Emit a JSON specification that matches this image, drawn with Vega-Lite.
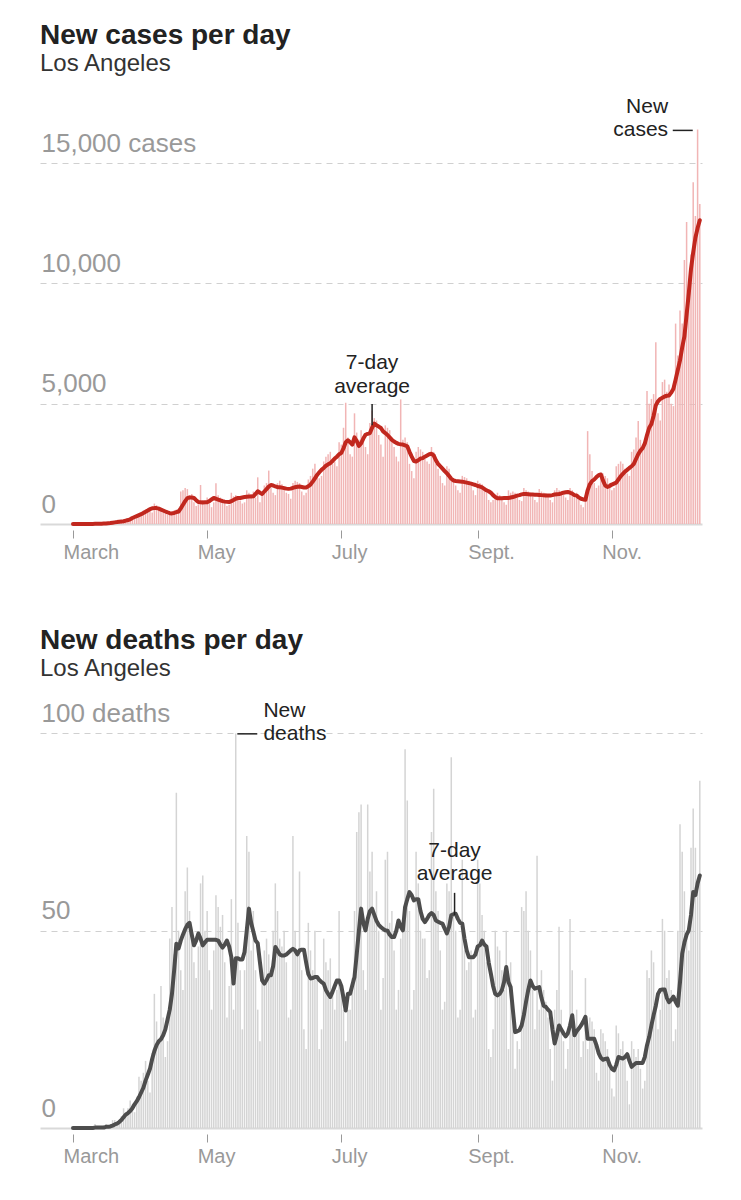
{
  "$schema": "https://vega.github.io/schema/vega-lite/v6.json",
  "background": "white",
  "padding": {"left": 40, "top": 21, "right": 20, "bottom": 10},
  "spacing": 65,
  "config": {
    "view": {"stroke": null},
    "font": "Liberation Sans",
    "title": {
      "font": "Liberation Sans",
      "fontSize": 28,
      "fontWeight": "bold",
      "color": "#222222",
      "anchor": "start",
      "subtitleFont": "Liberation Sans",
      "subtitleFontSize": 24,
      "subtitleColor": "#333333",
      "subtitlePadding": 2
    },
    "axisX": {
      "domain": false,
      "grid": false,
      "offset": 6,
      "tickSize": 8,
      "tickColor": "#999999",
      "tickWidth": 1,
      "labelAlign": "left",
      "labelBaseline": "top",
      "labelOffset": -10,
      "labelPadding": 4,
      "labelFontSize": 20,
      "labelColor": "#999999",
      "labelFlush": false,
      "labelOverlap": false,
      "title": null
    },
    "axisY": {
      "domain": false,
      "ticks": false,
      "labelAlign": "left",
      "labelBaseline": "alphabetic",
      "labelPadding": -1,
      "labelOffset": -12,
      "labelFontSize": 26,
      "labelColor": "#999999",
      "grid": true,
      "gridColor": {"condition": {"test": "datum.value === 0", "value": "#d9d9d9"}, "value": "#d0d0d0"},
      "gridDash": {"condition": {"test": "datum.value === 0", "value": []}, "value": [6, 5]},
      "gridWidth": {"condition": {"test": "datum.value === 0", "value": 2}, "value": 1},
      "title": null
    }
  },
  "datasets": {
    "daily": [
      {"date":"2020-03-01","cases":0,"avg_cases":0,"deaths":0,"avg_deaths":0},
      {"date":"2020-03-02","cases":1,"avg_cases":1,"deaths":0,"avg_deaths":0},
      {"date":"2020-03-03","cases":2,"avg_cases":1,"deaths":0,"avg_deaths":0},
      {"date":"2020-03-04","cases":1,"avg_cases":1,"deaths":0,"avg_deaths":0},
      {"date":"2020-03-05","cases":3,"avg_cases":2,"deaths":0,"avg_deaths":0},
      {"date":"2020-03-06","cases":4,"avg_cases":2,"deaths":0,"avg_deaths":0},
      {"date":"2020-03-07","cases":2,"avg_cases":3,"deaths":0,"avg_deaths":0},
      {"date":"2020-03-08","cases":3,"avg_cases":3,"deaths":0,"avg_deaths":0},
      {"date":"2020-03-09","cases":2,"avg_cases":4,"deaths":0,"avg_deaths":0},
      {"date":"2020-03-10","cases":6,"avg_cases":5,"deaths":0,"avg_deaths":0},
      {"date":"2020-03-11","cases":8,"avg_cases":6,"deaths":1,"avg_deaths":0.1},
      {"date":"2020-03-12","cases":12,"avg_cases":8,"deaths":0,"avg_deaths":0.1},
      {"date":"2020-03-13","cases":15,"avg_cases":11,"deaths":0,"avg_deaths":0.1},
      {"date":"2020-03-14","cases":20,"avg_cases":14,"deaths":0,"avg_deaths":0.1},
      {"date":"2020-03-15","cases":22,"avg_cases":18,"deaths":0,"avg_deaths":0.1},
      {"date":"2020-03-16","cases":30,"avg_cases":24,"deaths":1,"avg_deaths":0.3},
      {"date":"2020-03-17","cases":45,"avg_cases":32,"deaths":0,"avg_deaths":0.3},
      {"date":"2020-03-18","cases":60,"avg_cases":42,"deaths":1,"avg_deaths":0.4},
      {"date":"2020-03-19","cases":80,"avg_cases":55,"deaths":2,"avg_deaths":0.6},
      {"date":"2020-03-20","cases":95,"avg_cases":68,"deaths":2,"avg_deaths":0.9},
      {"date":"2020-03-21","cases":110,"avg_cases":80,"deaths":1,"avg_deaths":1.1},
      {"date":"2020-03-22","cases":100,"avg_cases":95,"deaths":2,"avg_deaths":1.5},
      {"date":"2020-03-23","cases":90,"avg_cases":105,"deaths":3,"avg_deaths":2.0},
      {"date":"2020-03-24","cases":140,"avg_cases":115,"deaths":5,"avg_deaths":2.7},
      {"date":"2020-03-25","cases":190,"avg_cases":140,"deaths":4,"avg_deaths":3.4},
      {"date":"2020-03-26","cases":210,"avg_cases":165,"deaths":5,"avg_deaths":3.8},
      {"date":"2020-03-27","cases":250,"avg_cases":195,"deaths":7,"avg_deaths":4.3},
      {"date":"2020-03-28","cases":300,"avg_cases":250,"deaths":6,"avg_deaths":5.0},
      {"date":"2020-03-29","cases":280,"avg_cases":290,"deaths":4,"avg_deaths":6.0},
      {"date":"2020-03-30","cases":280,"avg_cases":330,"deaths":8,"avg_deaths":6.8},
      {"date":"2020-03-31","cases":420,"avg_cases":370,"deaths":13,"avg_deaths":7.8},
      {"date":"2020-04-01","cases":480,"avg_cases":410,"deaths":12,"avg_deaths":9.0},
      {"date":"2020-04-02","cases":560,"avg_cases":460,"deaths":14,"avg_deaths":10.2},
      {"date":"2020-04-03","cases":600,"avg_cases":510,"deaths":17,"avg_deaths":12.0},
      {"date":"2020-04-04","cases":540,"avg_cases":560,"deaths":12,"avg_deaths":13.5},
      {"date":"2020-04-05","cases":560,"avg_cases":620,"deaths":9,"avg_deaths":15.0},
      {"date":"2020-04-06","cases":480,"avg_cases":650,"deaths":19,"avg_deaths":17.5},
      {"date":"2020-04-07","cases":850,"avg_cases":660,"deaths":34,"avg_deaths":19.5},
      {"date":"2020-04-08","cases":780,"avg_cases":660,"deaths":27,"avg_deaths":21},
      {"date":"2020-04-09","cases":720,"avg_cases":640,"deaths":22,"avg_deaths":22},
      {"date":"2020-04-10","cases":620,"avg_cases":600,"deaths":36,"avg_deaths":22.5},
      {"date":"2020-04-11","cases":500,"avg_cases":560,"deaths":28,"avg_deaths":23.5},
      {"date":"2020-04-12","cases":440,"avg_cases":520,"deaths":18,"avg_deaths":25},
      {"date":"2020-04-13","cases":380,"avg_cases":480,"deaths":22,"avg_deaths":27.5},
      {"date":"2020-04-14","cases":460,"avg_cases":450,"deaths":48,"avg_deaths":30},
      {"date":"2020-04-15","cases":520,"avg_cases":440,"deaths":56,"avg_deaths":34},
      {"date":"2020-04-16","cases":560,"avg_cases":460,"deaths":44,"avg_deaths":40},
      {"date":"2020-04-17","cases":600,"avg_cases":490,"deaths":85,"avg_deaths":46.7},
      {"date":"2020-04-18","cases":480,"avg_cases":520,"deaths":50,"avg_deaths":45.5},
      {"date":"2020-04-19","cases":1350,"avg_cases":650,"deaths":40,"avg_deaths":47.5},
      {"date":"2020-04-20","cases":1400,"avg_cases":800,"deaths":35,"avg_deaths":49},
      {"date":"2020-04-21","cases":1500,"avg_cases":950,"deaths":60,"avg_deaths":50.4},
      {"date":"2020-04-22","cases":1450,"avg_cases":1075,"deaths":66,"avg_deaths":51.5},
      {"date":"2020-04-23","cases":1200,"avg_cases":1100,"deaths":55,"avg_deaths":52},
      {"date":"2020-04-24","cases":1250,"avg_cases":1100,"deaths":48,"avg_deaths":49},
      {"date":"2020-04-25","cases":900,"avg_cases":1080,"deaths":42,"avg_deaths":46.3},
      {"date":"2020-04-26","cases":750,"avg_cases":990,"deaths":38,"avg_deaths":47.5},
      {"date":"2020-04-27","cases":820,"avg_cases":910,"deaths":46,"avg_deaths":49.3},
      {"date":"2020-04-28","cases":1620,"avg_cases":900,"deaths":62,"avg_deaths":48},
      {"date":"2020-04-29","cases":1000,"avg_cases":890,"deaths":64,"avg_deaths":46.3},
      {"date":"2020-04-30","cases":950,"avg_cases":900,"deaths":50,"avg_deaths":47},
      {"date":"2020-05-01","cases":1100,"avg_cases":905,"deaths":55,"avg_deaths":47.7},
      {"date":"2020-05-02","cases":850,"avg_cases":950,"deaths":40,"avg_deaths":47.7},
      {"date":"2020-05-03","cases":700,"avg_cases":1020,"deaths":30,"avg_deaths":47.7},
      {"date":"2020-05-04","cases":900,"avg_cases":1080,"deaths":45,"avg_deaths":47.7},
      {"date":"2020-05-05","cases":1690,"avg_cases":1050,"deaths":59,"avg_deaths":47.7},
      {"date":"2020-05-06","cases":1200,"avg_cases":1010,"deaths":56,"avg_deaths":47.5},
      {"date":"2020-05-07","cases":1100,"avg_cases":980,"deaths":51,"avg_deaths":46.5},
      {"date":"2020-05-08","cases":1050,"avg_cases":950,"deaths":54,"avg_deaths":45.7},
      {"date":"2020-05-09","cases":880,"avg_cases":930,"deaths":42,"avg_deaths":46.5},
      {"date":"2020-05-10","cases":750,"avg_cases":920,"deaths":28,"avg_deaths":47.5},
      {"date":"2020-05-11","cases":800,"avg_cases":910,"deaths":36,"avg_deaths":46},
      {"date":"2020-05-12","cases":1300,"avg_cases":950,"deaths":58,"avg_deaths":43.3},
      {"date":"2020-05-13","cases":1150,"avg_cases":1000,"deaths":30,"avg_deaths":36.6},
      {"date":"2020-05-14","cases":1200,"avg_cases":1050,"deaths":100,"avg_deaths":43},
      {"date":"2020-05-15","cases":1150,"avg_cases":1080,"deaths":52,"avg_deaths":43},
      {"date":"2020-05-16","cases":980,"avg_cases":1080,"deaths":40,"avg_deaths":42.7},
      {"date":"2020-05-17","cases":850,"avg_cases":1100,"deaths":25,"avg_deaths":42.7},
      {"date":"2020-05-18","cases":900,"avg_cases":1120,"deaths":40,"avg_deaths":44.6},
      {"date":"2020-05-19","cases":1400,"avg_cases":1130,"deaths":74,"avg_deaths":50},
      {"date":"2020-05-20","cases":1300,"avg_cases":1140,"deaths":70,"avg_deaths":55.6},
      {"date":"2020-05-21","cases":1250,"avg_cases":1145,"deaths":45,"avg_deaths":52},
      {"date":"2020-05-22","cases":1350,"avg_cases":1150,"deaths":55,"avg_deaths":49.8},
      {"date":"2020-05-23","cases":1100,"avg_cases":1250,"deaths":40,"avg_deaths":47.5},
      {"date":"2020-05-24","cases":1940,"avg_cases":1360,"deaths":30,"avg_deaths":46.8},
      {"date":"2020-05-25","cases":900,"avg_cases":1300,"deaths":22,"avg_deaths":42},
      {"date":"2020-05-26","cases":1300,"avg_cases":1250,"deaths":38,"avg_deaths":37.4},
      {"date":"2020-05-27","cases":1600,"avg_cases":1350,"deaths":45,"avg_deaths":36.6},
      {"date":"2020-05-28","cases":1700,"avg_cases":1450,"deaths":48,"avg_deaths":37.5},
      {"date":"2020-05-29","cases":2220,"avg_cases":1550,"deaths":44,"avg_deaths":38.7},
      {"date":"2020-05-30","cases":1500,"avg_cases":1620,"deaths":40,"avg_deaths":38.7},
      {"date":"2020-05-31","cases":1300,"avg_cases":1600,"deaths":50,"avg_deaths":41},
      {"date":"2020-06-01","cases":1200,"avg_cases":1560,"deaths":62,"avg_deaths":45.9},
      {"date":"2020-06-02","cases":1700,"avg_cases":1530,"deaths":55,"avg_deaths":45},
      {"date":"2020-06-03","cases":1800,"avg_cases":1530,"deaths":48,"avg_deaths":44},
      {"date":"2020-06-04","cases":1650,"avg_cases":1510,"deaths":46,"avg_deaths":43.7},
      {"date":"2020-06-05","cases":1550,"avg_cases":1490,"deaths":50,"avg_deaths":43.7},
      {"date":"2020-06-06","cases":1300,"avg_cases":1470,"deaths":42,"avg_deaths":44},
      {"date":"2020-06-07","cases":1250,"avg_cases":1460,"deaths":28,"avg_deaths":44.5},
      {"date":"2020-06-08","cases":1050,"avg_cases":1470,"deaths":30,"avg_deaths":45},
      {"date":"2020-06-09","cases":1700,"avg_cases":1500,"deaths":74,"avg_deaths":45.4},
      {"date":"2020-06-10","cases":1800,"avg_cases":1530,"deaths":50,"avg_deaths":45},
      {"date":"2020-06-11","cases":1750,"avg_cases":1550,"deaths":45,"avg_deaths":44},
      {"date":"2020-06-12","cases":1700,"avg_cases":1560,"deaths":65,"avg_deaths":45},
      {"date":"2020-06-13","cases":1350,"avg_cases":1540,"deaths":40,"avg_deaths":45.2},
      {"date":"2020-06-14","cases":1200,"avg_cases":1520,"deaths":25,"avg_deaths":45.2},
      {"date":"2020-06-15","cases":1300,"avg_cases":1520,"deaths":20,"avg_deaths":42},
      {"date":"2020-06-16","cases":1850,"avg_cases":1570,"deaths":52,"avg_deaths":39},
      {"date":"2020-06-17","cases":2000,"avg_cases":1640,"deaths":45,"avg_deaths":37.9},
      {"date":"2020-06-18","cases":2300,"avg_cases":1760,"deaths":40,"avg_deaths":38},
      {"date":"2020-06-19","cases":2500,"avg_cases":1900,"deaths":50,"avg_deaths":38.3},
      {"date":"2020-06-20","cases":2100,"avg_cases":2040,"deaths":38,"avg_deaths":38.3},
      {"date":"2020-06-21","cases":1900,"avg_cases":2150,"deaths":20,"avg_deaths":37.5},
      {"date":"2020-06-22","cases":2000,"avg_cases":2250,"deaths":25,"avg_deaths":37},
      {"date":"2020-06-23","cases":2600,"avg_cases":2330,"deaths":48,"avg_deaths":36.6},
      {"date":"2020-06-24","cases":2800,"avg_cases":2420,"deaths":42,"avg_deaths":35},
      {"date":"2020-06-25","cases":2900,"avg_cases":2480,"deaths":40,"avg_deaths":34},
      {"date":"2020-06-26","cases":3000,"avg_cases":2530,"deaths":43,"avg_deaths":33.2},
      {"date":"2020-06-27","cases":2500,"avg_cases":2620,"deaths":35,"avg_deaths":34.5},
      {"date":"2020-06-28","cases":2600,"avg_cases":2720,"deaths":30,"avg_deaths":36},
      {"date":"2020-06-29","cases":2400,"avg_cases":2800,"deaths":35,"avg_deaths":37.4},
      {"date":"2020-06-30","cases":3400,"avg_cases":2900,"deaths":55,"avg_deaths":37.4},
      {"date":"2020-07-01","cases":3300,"avg_cases":2950,"deaths":35,"avg_deaths":36},
      {"date":"2020-07-02","cases":4000,"avg_cases":3150,"deaths":30,"avg_deaths":33},
      {"date":"2020-07-03","cases":5040,"avg_cases":3400,"deaths":22,"avg_deaths":29.8},
      {"date":"2020-07-04","cases":3600,"avg_cases":3480,"deaths":30,"avg_deaths":34},
      {"date":"2020-07-05","cases":2900,"avg_cases":3400,"deaths":30,"avg_deaths":34},
      {"date":"2020-07-06","cases":2800,"avg_cases":3300,"deaths":38,"avg_deaths":36.2},
      {"date":"2020-07-07","cases":4600,"avg_cases":3600,"deaths":55,"avg_deaths":38.3},
      {"date":"2020-07-08","cases":3800,"avg_cases":3450,"deaths":75,"avg_deaths":44},
      {"date":"2020-07-09","cases":3500,"avg_cases":3250,"deaths":80,"avg_deaths":50},
      {"date":"2020-07-10","cases":3900,"avg_cases":3350,"deaths":82,"avg_deaths":55.6},
      {"date":"2020-07-11","cases":3400,"avg_cases":3550,"deaths":40,"avg_deaths":52},
      {"date":"2020-07-12","cases":3200,"avg_cases":3710,"deaths":35,"avg_deaths":50.1},
      {"date":"2020-07-13","cases":2900,"avg_cases":3750,"deaths":82,"avg_deaths":53},
      {"date":"2020-07-14","cases":4200,"avg_cases":3780,"deaths":65,"avg_deaths":55},
      {"date":"2020-07-15","cases":4720,"avg_cases":4000,"deaths":70,"avg_deaths":55.6},
      {"date":"2020-07-16","cases":4400,"avg_cases":4170,"deaths":55,"avg_deaths":54},
      {"date":"2020-07-17","cases":4300,"avg_cases":4100,"deaths":60,"avg_deaths":52.5},
      {"date":"2020-07-18","cases":3700,"avg_cases":4050,"deaths":50,"avg_deaths":51.5},
      {"date":"2020-07-19","cases":3300,"avg_cases":3990,"deaths":30,"avg_deaths":50.9},
      {"date":"2020-07-20","cases":2800,"avg_cases":3850,"deaths":38,"avg_deaths":50.5},
      {"date":"2020-07-21","cases":4100,"avg_cases":3780,"deaths":68,"avg_deaths":50.1},
      {"date":"2020-07-22","cases":4000,"avg_cases":3700,"deaths":70,"avg_deaths":50},
      {"date":"2020-07-23","cases":3900,"avg_cases":3600,"deaths":52,"avg_deaths":49},
      {"date":"2020-07-24","cases":3600,"avg_cases":3500,"deaths":55,"avg_deaths":48.4},
      {"date":"2020-07-25","cases":3200,"avg_cases":3430,"deaths":45,"avg_deaths":48.4},
      {"date":"2020-07-26","cases":2800,"avg_cases":3370,"deaths":30,"avg_deaths":50},
      {"date":"2020-07-27","cases":2600,"avg_cases":3330,"deaths":35,"avg_deaths":52.6},
      {"date":"2020-07-28","cases":5180,"avg_cases":3310,"deaths":48,"avg_deaths":51},
      {"date":"2020-07-29","cases":3500,"avg_cases":3300,"deaths":50,"avg_deaths":50.1},
      {"date":"2020-07-30","cases":3600,"avg_cases":3270,"deaths":96,"avg_deaths":56},
      {"date":"2020-07-31","cases":3400,"avg_cases":3230,"deaths":83,"avg_deaths":58},
      {"date":"2020-08-01","cases":2500,"avg_cases":3000,"deaths":55,"avg_deaths":59.8},
      {"date":"2020-08-02","cases":2200,"avg_cases":2800,"deaths":30,"avg_deaths":59},
      {"date":"2020-08-03","cases":1900,"avg_cases":2620,"deaths":35,"avg_deaths":57.7},
      {"date":"2020-08-04","cases":3000,"avg_cases":2600,"deaths":70,"avg_deaths":58},
      {"date":"2020-08-05","cases":3200,"avg_cases":2650,"deaths":62,"avg_deaths":58},
      {"date":"2020-08-06","cases":3100,"avg_cases":2720,"deaths":50,"avg_deaths":55},
      {"date":"2020-08-07","cases":3000,"avg_cases":2740,"deaths":48,"avg_deaths":53},
      {"date":"2020-08-08","cases":2700,"avg_cases":2800,"deaths":48,"avg_deaths":52.2},
      {"date":"2020-08-09","cases":2600,"avg_cases":2850,"deaths":38,"avg_deaths":53},
      {"date":"2020-08-10","cases":2500,"avg_cases":2900,"deaths":40,"avg_deaths":54},
      {"date":"2020-08-11","cases":3200,"avg_cases":2920,"deaths":75,"avg_deaths":54.5},
      {"date":"2020-08-12","cases":3000,"avg_cases":2850,"deaths":86,"avg_deaths":54},
      {"date":"2020-08-13","cases":2500,"avg_cases":2650,"deaths":60,"avg_deaths":52.6},
      {"date":"2020-08-14","cases":2300,"avg_cases":2500,"deaths":55,"avg_deaths":52.3},
      {"date":"2020-08-15","cases":2000,"avg_cases":2400,"deaths":45,"avg_deaths":52},
      {"date":"2020-08-16","cases":1700,"avg_cases":2300,"deaths":30,"avg_deaths":51.8},
      {"date":"2020-08-17","cases":1600,"avg_cases":2200,"deaths":32,"avg_deaths":50.5},
      {"date":"2020-08-18","cases":2400,"avg_cases":2110,"deaths":62,"avg_deaths":49.3},
      {"date":"2020-08-19","cases":2300,"avg_cases":2000,"deaths":60,"avg_deaths":51},
      {"date":"2020-08-20","cases":2000,"avg_cases":1880,"deaths":94,"avg_deaths":53.9},
      {"date":"2020-08-21","cases":1900,"avg_cases":1810,"deaths":55,"avg_deaths":54.2},
      {"date":"2020-08-22","cases":1600,"avg_cases":1790,"deaths":50,"avg_deaths":54.3},
      {"date":"2020-08-23","cases":1400,"avg_cases":1780,"deaths":28,"avg_deaths":53},
      {"date":"2020-08-24","cases":1300,"avg_cases":1770,"deaths":30,"avg_deaths":52},
      {"date":"2020-08-25","cases":2000,"avg_cases":1760,"deaths":68,"avg_deaths":51.8},
      {"date":"2020-08-26","cases":1950,"avg_cases":1740,"deaths":45,"avg_deaths":48},
      {"date":"2020-08-27","cases":1900,"avg_cases":1720,"deaths":40,"avg_deaths":45},
      {"date":"2020-08-28","cases":1800,"avg_cases":1700,"deaths":42,"avg_deaths":43.3},
      {"date":"2020-08-29","cases":1600,"avg_cases":1680,"deaths":45,"avg_deaths":43.3},
      {"date":"2020-08-30","cases":1400,"avg_cases":1650,"deaths":28,"avg_deaths":43.3},
      {"date":"2020-08-31","cases":1200,"avg_cases":1620,"deaths":30,"avg_deaths":44},
      {"date":"2020-09-01","cases":1800,"avg_cases":1580,"deaths":68,"avg_deaths":46},
      {"date":"2020-09-02","cases":1700,"avg_cases":1560,"deaths":62,"avg_deaths":46.3},
      {"date":"2020-09-03","cases":1650,"avg_cases":1520,"deaths":54,"avg_deaths":47.5},
      {"date":"2020-09-04","cases":1500,"avg_cases":1460,"deaths":50,"avg_deaths":46.5},
      {"date":"2020-09-05","cases":1300,"avg_cases":1400,"deaths":42,"avg_deaths":46},
      {"date":"2020-09-06","cases":1000,"avg_cases":1360,"deaths":20,"avg_deaths":42},
      {"date":"2020-09-07","cases":900,"avg_cases":1300,"deaths":18,"avg_deaths":39.1},
      {"date":"2020-09-08","cases":1000,"avg_cases":1200,"deaths":25,"avg_deaths":36},
      {"date":"2020-09-09","cases":1100,"avg_cases":1120,"deaths":50,"avg_deaths":34},
      {"date":"2020-09-10","cases":1300,"avg_cases":1070,"deaths":46,"avg_deaths":33.6},
      {"date":"2020-09-11","cases":1200,"avg_cases":1070,"deaths":45,"avg_deaths":34},
      {"date":"2020-09-12","cases":1050,"avg_cases":1075,"deaths":40,"avg_deaths":34.9},
      {"date":"2020-09-13","cases":900,"avg_cases":1080,"deaths":35,"avg_deaths":37},
      {"date":"2020-09-14","cases":800,"avg_cases":1080,"deaths":50,"avg_deaths":40.8},
      {"date":"2020-09-15","cases":1400,"avg_cases":1080,"deaths":20,"avg_deaths":37},
      {"date":"2020-09-16","cases":1300,"avg_cases":1100,"deaths":42,"avg_deaths":35.7},
      {"date":"2020-09-17","cases":1350,"avg_cases":1120,"deaths":30,"avg_deaths":30},
      {"date":"2020-09-18","cases":1300,"avg_cases":1150,"deaths":15,"avg_deaths":24.3},
      {"date":"2020-09-19","cases":1100,"avg_cases":1180,"deaths":22,"avg_deaths":24.5},
      {"date":"2020-09-20","cases":1000,"avg_cases":1200,"deaths":20,"avg_deaths":24.8},
      {"date":"2020-09-21","cases":950,"avg_cases":1230,"deaths":56,"avg_deaths":26},
      {"date":"2020-09-22","cases":1500,"avg_cases":1250,"deaths":55,"avg_deaths":28.6},
      {"date":"2020-09-23","cases":1400,"avg_cases":1250,"deaths":60,"avg_deaths":32},
      {"date":"2020-09-24","cases":1350,"avg_cases":1240,"deaths":50,"avg_deaths":35},
      {"date":"2020-09-25","cases":1300,"avg_cases":1230,"deaths":45,"avg_deaths":37.4},
      {"date":"2020-09-26","cases":1150,"avg_cases":1225,"deaths":35,"avg_deaths":36},
      {"date":"2020-09-27","cases":1000,"avg_cases":1220,"deaths":25,"avg_deaths":35.3},
      {"date":"2020-09-28","cases":900,"avg_cases":1220,"deaths":69,"avg_deaths":35.5},
      {"date":"2020-09-29","cases":1450,"avg_cases":1210,"deaths":30,"avg_deaths":35.7},
      {"date":"2020-09-30","cases":1350,"avg_cases":1200,"deaths":40,"avg_deaths":33},
      {"date":"2020-10-01","cases":1300,"avg_cases":1190,"deaths":35,"avg_deaths":31},
      {"date":"2020-10-02","cases":1280,"avg_cases":1185,"deaths":32,"avg_deaths":30.7},
      {"date":"2020-10-03","cases":1150,"avg_cases":1180,"deaths":28,"avg_deaths":30},
      {"date":"2020-10-04","cases":1000,"avg_cases":1180,"deaths":20,"avg_deaths":29.4},
      {"date":"2020-10-05","cases":900,"avg_cases":1200,"deaths":12,"avg_deaths":25},
      {"date":"2020-10-06","cases":1400,"avg_cases":1230,"deaths":30,"avg_deaths":21.4},
      {"date":"2020-10-07","cases":1500,"avg_cases":1240,"deaths":35,"avg_deaths":23.5},
      {"date":"2020-10-08","cases":1400,"avg_cases":1250,"deaths":51,"avg_deaths":26},
      {"date":"2020-10-09","cases":1350,"avg_cases":1270,"deaths":30,"avg_deaths":25},
      {"date":"2020-10-10","cases":1200,"avg_cases":1300,"deaths":22,"avg_deaths":24},
      {"date":"2020-10-11","cases":1100,"avg_cases":1320,"deaths":15,"avg_deaths":23.2},
      {"date":"2020-10-12","cases":1000,"avg_cases":1330,"deaths":20,"avg_deaths":24},
      {"date":"2020-10-13","cases":1500,"avg_cases":1300,"deaths":53,"avg_deaths":26},
      {"date":"2020-10-14","cases":1400,"avg_cases":1260,"deaths":40,"avg_deaths":28.6},
      {"date":"2020-10-15","cases":1250,"avg_cases":1200,"deaths":25,"avg_deaths":23.5},
      {"date":"2020-10-16","cases":1300,"avg_cases":1180,"deaths":30,"avg_deaths":24.5},
      {"date":"2020-10-17","cases":1000,"avg_cases":1100,"deaths":25,"avg_deaths":25.2},
      {"date":"2020-10-18","cases":800,"avg_cases":1050,"deaths":18,"avg_deaths":26},
      {"date":"2020-10-19","cases":700,"avg_cases":1020,"deaths":22,"avg_deaths":27},
      {"date":"2020-10-20","cases":1200,"avg_cases":1010,"deaths":38,"avg_deaths":28.2},
      {"date":"2020-10-21","cases":3860,"avg_cases":1400,"deaths":20,"avg_deaths":22.6},
      {"date":"2020-10-22","cases":2900,"avg_cases":1650,"deaths":28,"avg_deaths":22.6},
      {"date":"2020-10-23","cases":2200,"avg_cases":1780,"deaths":27,"avg_deaths":22.6},
      {"date":"2020-10-24","cases":1700,"avg_cases":1850,"deaths":25,"avg_deaths":22.6},
      {"date":"2020-10-25","cases":1500,"avg_cases":1950,"deaths":14,"avg_deaths":21},
      {"date":"2020-10-26","cases":1600,"avg_cases":2030,"deaths":12,"avg_deaths":19},
      {"date":"2020-10-27","cases":2000,"avg_cases":2060,"deaths":25,"avg_deaths":17.8},
      {"date":"2020-10-28","cases":2100,"avg_cases":1800,"deaths":24,"avg_deaths":17.3},
      {"date":"2020-10-29","cases":2000,"avg_cases":1600,"deaths":22,"avg_deaths":17.5},
      {"date":"2020-10-30","cases":1900,"avg_cases":1540,"deaths":20,"avg_deaths":17.6},
      {"date":"2020-10-31","cases":1700,"avg_cases":1580,"deaths":15,"avg_deaths":16},
      {"date":"2020-11-01","cases":1400,"avg_cases":1640,"deaths":10,"avg_deaths":15},
      {"date":"2020-11-02","cases":1500,"avg_cases":1680,"deaths":8,"avg_deaths":14.6},
      {"date":"2020-11-03","cases":2400,"avg_cases":1720,"deaths":26,"avg_deaths":16},
      {"date":"2020-11-04","cases":2500,"avg_cases":1850,"deaths":24,"avg_deaths":18},
      {"date":"2020-11-05","cases":2600,"avg_cases":1980,"deaths":20,"avg_deaths":17.8},
      {"date":"2020-11-06","cases":2500,"avg_cases":2080,"deaths":22,"avg_deaths":17.6},
      {"date":"2020-11-07","cases":2300,"avg_cases":2180,"deaths":18,"avg_deaths":18},
      {"date":"2020-11-08","cases":2100,"avg_cases":2250,"deaths":12,"avg_deaths":18.7},
      {"date":"2020-11-09","cases":2000,"avg_cases":2330,"deaths":6,"avg_deaths":17},
      {"date":"2020-11-10","cases":3000,"avg_cases":2400,"deaths":22,"avg_deaths":15.5},
      {"date":"2020-11-11","cases":3100,"avg_cases":2500,"deaths":20,"avg_deaths":16},
      {"date":"2020-11-12","cases":3600,"avg_cases":2700,"deaths":18,"avg_deaths":16.5},
      {"date":"2020-11-13","cases":4280,"avg_cases":2900,"deaths":20,"avg_deaths":16.5},
      {"date":"2020-11-14","cases":3500,"avg_cases":3050,"deaths":15,"avg_deaths":16.5},
      {"date":"2020-11-15","cases":3200,"avg_cases":3150,"deaths":10,"avg_deaths":16.5},
      {"date":"2020-11-16","cases":3300,"avg_cases":3350,"deaths":12,"avg_deaths":18},
      {"date":"2020-11-17","cases":5530,"avg_cases":3700,"deaths":40,"avg_deaths":21},
      {"date":"2020-11-18","cases":5000,"avg_cases":4000,"deaths":38,"avg_deaths":23.1},
      {"date":"2020-11-19","cases":5200,"avg_cases":4160,"deaths":45,"avg_deaths":26},
      {"date":"2020-11-20","cases":5400,"avg_cases":4500,"deaths":42,"avg_deaths":28.6},
      {"date":"2020-11-21","cases":7550,"avg_cases":4930,"deaths":30,"avg_deaths":31},
      {"date":"2020-11-22","cases":4600,"avg_cases":5100,"deaths":25,"avg_deaths":34},
      {"date":"2020-11-23","cases":4300,"avg_cases":5200,"deaths":30,"avg_deaths":35},
      {"date":"2020-11-24","cases":5900,"avg_cases":5250,"deaths":53,"avg_deaths":35.1},
      {"date":"2020-11-25","cases":6000,"avg_cases":5300,"deaths":50,"avg_deaths":35.1},
      {"date":"2020-11-26","cases":5500,"avg_cases":5330,"deaths":38,"avg_deaths":33},
      {"date":"2020-11-27","cases":5800,"avg_cases":5340,"deaths":40,"avg_deaths":31.9},
      {"date":"2020-11-28","cases":5000,"avg_cases":5460,"deaths":35,"avg_deaths":32.5},
      {"date":"2020-11-29","cases":4900,"avg_cases":5620,"deaths":22,"avg_deaths":33.3},
      {"date":"2020-11-30","cases":8330,"avg_cases":6000,"deaths":25,"avg_deaths":32},
      {"date":"2020-12-01","cases":7000,"avg_cases":6400,"deaths":50,"avg_deaths":31},
      {"date":"2020-12-02","cases":8870,"avg_cases":6800,"deaths":77,"avg_deaths":37},
      {"date":"2020-12-03","cases":8330,"avg_cases":7340,"deaths":70,"avg_deaths":44.2},
      {"date":"2020-12-04","cases":10970,"avg_cases":7800,"deaths":60,"avg_deaths":47},
      {"date":"2020-12-05","cases":12550,"avg_cases":8700,"deaths":50,"avg_deaths":49},
      {"date":"2020-12-06","cases":9800,"avg_cases":9600,"deaths":45,"avg_deaths":50.1},
      {"date":"2020-12-07","cases":11200,"avg_cases":10600,"deaths":71,"avg_deaths":54},
      {"date":"2020-12-08","cases":14200,"avg_cases":11300,"deaths":81,"avg_deaths":59.8},
      {"date":"2020-12-09","cases":12800,"avg_cases":11900,"deaths":71,"avg_deaths":59},
      {"date":"2020-12-10","cases":16400,"avg_cases":12300,"deaths":60,"avg_deaths":62},
      {"date":"2020-12-11","cases":13300,"avg_cases":12625,"deaths":88,"avg_deaths":64}
    ]
  },
  "vconcat": [
    {
      "width": 662,
      "height": 409,
      "title": {"text": "New cases per day", "subtitle": "Los Angeles", "offset": 20},
      "encoding": {
        "x": {
          "field": "date",
          "type": "temporal",
          "scale": {
            "type": "utc",
            "padding": 0,
            "nice": false,
            "domain": [
              {"year": 2020, "month": 2, "date": 15, "utc": true},
              {"year": 2020, "month": 12, "date": 12, "utc": true}
            ]
          },
          "title": null,
          "axis": {
            "values": [
              {"year": 2020, "month": 3, "date": 1, "utc": true},
              {"year": 2020, "month": 5, "date": 1, "utc": true},
              {"year": 2020, "month": 7, "date": 1, "utc": true},
              {"year": 2020, "month": 9, "date": 1, "utc": true},
              {"year": 2020, "month": 11, "date": 1, "utc": true}
            ],
            "labelExpr": "['Jan.','Feb.','March','April','May','June','July','Aug.','Sept.','Oct.','Nov.','Dec.'][utcmonth(datum.value)]"
          }
        }
      },
      "layer": [
        {
          "data": {"name": "daily"},
          "mark": {"type": "bar", "width": 1.5, "color": "#f1b5b5"},
          "encoding": {
            "y": {
              "field": "cases",
              "type": "quantitative",
              "title": null,
              "scale": {"domain": [0, 17000], "nice": false, "zero": true},
              "axis": {
                "values": [0, 5000, 10000, 15000],
                "labelExpr": "datum.value == 15000 ? datum.label + ' cases' : datum.label"
              }
            }
          }
        },
        {
          "data": {"name": "daily"},
          "mark": {"type": "line", "color": "#c1271e", "strokeWidth": 4, "strokeCap": "round", "strokeJoin": "round"},
          "encoding": {"y": {"field": "avg_cases", "type": "quantitative", "title": null}}
        },
        {
          "data": {"values": [{"date": "2020-07-15", "value": 4100, "value2": 4990}]},
          "mark": {"type": "rule", "color": "#222222", "strokeWidth": 1.5},
          "encoding": {
            "y": {"field": "value", "type": "quantitative", "title": null},
            "y2": {"field": "value2"}
          }
        },
        {
          "data": {"values": [{"date": "2020-11-28T17:00:00Z", "date2": "2020-12-07T19:00:00Z", "value": 16360}]},
          "mark": {"type": "rule", "color": "#222222", "strokeWidth": 1.5},
          "encoding": {
            "x2": {"field": "date2"},
            "y": {"field": "value", "type": "quantitative", "title": null}
          }
        },
        {
          "data": {"values": [
            {"date": "2020-07-15", "value": 6430, "label": "7-day\naverage"}
          ]},
          "mark": {"type": "text", "font": "Liberation Sans", "fontSize": 21, "color": "#222222", "lineBreak": "\n", "lineHeight": 23.5, "align": "center", "baseline": "alphabetic"},
          "encoding": {
            "y": {"field": "value", "type": "quantitative", "title": null},
            "text": {"field": "label"}
          }
        },
        {
          "data": {"values": [
            {"date": "2020-11-26T14:00:00Z", "value": 17090, "label": "New\ncases"}
          ]},
          "mark": {"type": "text", "font": "Liberation Sans", "fontSize": 21, "color": "#222222", "lineBreak": "\n", "lineHeight": 23.5, "align": "right", "baseline": "alphabetic"},
          "encoding": {
            "y": {"field": "value", "type": "quantitative", "title": null},
            "text": {"field": "label"}
          }
        }
      ]
    },
    {
      "width": 662,
      "height": 434,
      "title": {"text": "New deaths per day", "subtitle": "Los Angeles", "offset": 13},
      "encoding": {
        "x": {
          "field": "date",
          "type": "temporal",
          "scale": {
            "type": "utc",
            "padding": 0,
            "nice": false,
            "domain": [
              {"year": 2020, "month": 2, "date": 15, "utc": true},
              {"year": 2020, "month": 12, "date": 12, "utc": true}
            ]
          },
          "title": null,
          "axis": {
            "values": [
              {"year": 2020, "month": 3, "date": 1, "utc": true},
              {"year": 2020, "month": 5, "date": 1, "utc": true},
              {"year": 2020, "month": 7, "date": 1, "utc": true},
              {"year": 2020, "month": 9, "date": 1, "utc": true},
              {"year": 2020, "month": 11, "date": 1, "utc": true}
            ],
            "labelExpr": "['Jan.','Feb.','March','April','May','June','July','Aug.','Sept.','Oct.','Nov.','Dec.'][utcmonth(datum.value)]"
          }
        }
      },
      "layer": [
        {
          "data": {"name": "daily"},
          "mark": {"type": "bar", "width": 1.5, "color": "#d4d4d4"},
          "encoding": {
            "y": {
              "field": "deaths",
              "type": "quantitative",
              "title": null,
              "scale": {"domain": [0, 110], "nice": false, "zero": true},
              "axis": {
                "values": [0, 50, 100],
                "labelExpr": "datum.value == 100 ? datum.label + ' deaths' : datum.label"
              }
            }
          }
        },
        {
          "data": {"name": "daily"},
          "mark": {"type": "line", "color": "#4d4d4d", "strokeWidth": 4, "strokeCap": "round", "strokeJoin": "round"},
          "encoding": {"y": {"field": "avg_deaths", "type": "quantitative", "title": null}}
        },
        {
          "data": {"values": [{"date": "2020-08-21T12:00:00Z", "value": 54, "value2": 59.6}]},
          "mark": {"type": "rule", "color": "#222222", "strokeWidth": 1.5},
          "encoding": {
            "y": {"field": "value", "type": "quantitative", "title": null},
            "y2": {"field": "value2"}
          }
        },
        {
          "data": {"values": [{"date": "2020-05-14T17:00:00Z", "date2": "2020-05-23T19:00:00Z", "value": 99.9}]},
          "mark": {"type": "rule", "color": "#222222", "strokeWidth": 1.5},
          "encoding": {
            "x2": {"field": "date2"},
            "y": {"field": "value", "type": "quantitative", "title": null}
          }
        },
        {
          "data": {"values": [
            {"date": "2020-08-21T12:00:00Z", "value": 68.7, "label": "7-day\naverage"}
          ]},
          "mark": {"type": "text", "font": "Liberation Sans", "fontSize": 21, "color": "#222222", "lineBreak": "\n", "lineHeight": 23.5, "align": "center", "baseline": "alphabetic"},
          "encoding": {
            "y": {"field": "value", "type": "quantitative", "title": null},
            "text": {"field": "label"}
          }
        },
        {
          "data": {"values": [
            {"date": "2020-05-26T14:00:00Z", "value": 104.2, "label": "New\ndeaths"}
          ]},
          "mark": {"type": "text", "font": "Liberation Sans", "fontSize": 21, "color": "#222222", "lineBreak": "\n", "lineHeight": 23.5, "align": "left", "baseline": "alphabetic"},
          "encoding": {
            "y": {"field": "value", "type": "quantitative", "title": null},
            "text": {"field": "label"}
          }
        }
      ]
    }
  ]
}
